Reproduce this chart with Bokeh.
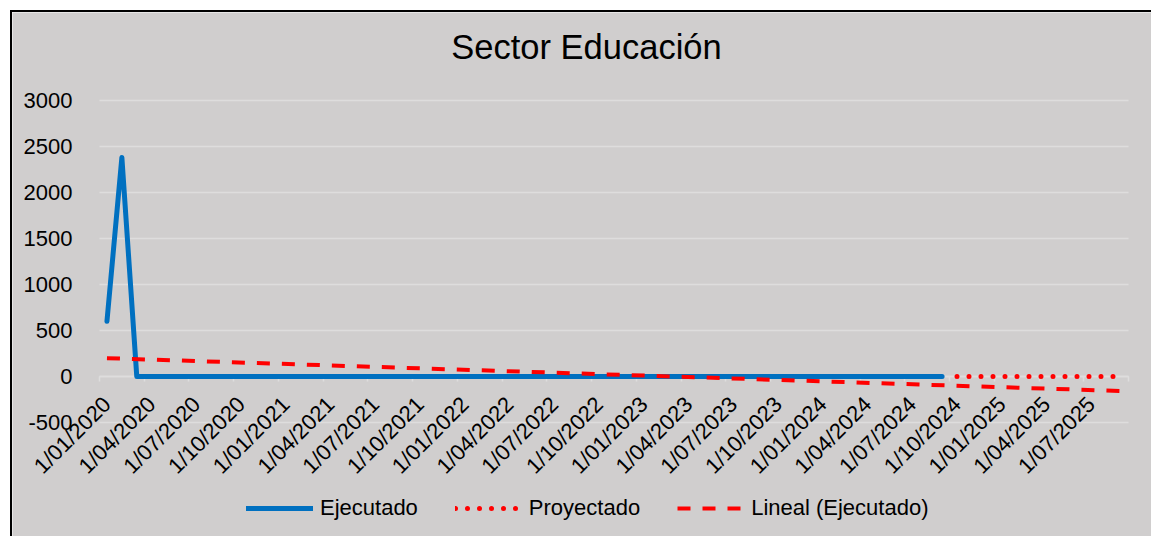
import math
import pandas as pd
from bokeh.plotting import figure
from bokeh.models import (FixedTicker, LinearAxis, Legend, LegendItem, Range1d, Label)
from bokeh.embed import file_html
from bokeh.resources import INLINE

# ---------------- data ----------------
ejecutado_months = pd.date_range("2020-01-01", "2024-09-01", freq="MS")
ejecutado = [
    600, 2380, 0, 0, 0, 0, 0, 0, 0, 0, 0, 0,      # 2020
    0, 0, 0, 0, 0, 0, 0, 0, 0, 0, 0, 0,           # 2021
    0, 0, 0, 0, 0, 0, 0, 0, 0, 0, 0, 0,           # 2022
    0, 0, 0, 0, 0, 0, 0, 0, 0, 0, 0, 0,           # 2023
    0, 0, 0, 0, 0, 0, 0, 0, 0,                    # 2024 (ene-sep)
]
proyectado_months = pd.date_range("2024-10-01", "2025-09-01", freq="MS")
proyectado = [0, 0, 0, 0, 0, 0, 0, 0, 0, 0, 0, 0]

tendencia_months = pd.to_datetime(["2020-01-01", "2025-09-01"])
tendencia = [199, -158]

tick_dates = pd.date_range("2020-01-01", "2025-07-01", freq="3MS")
tick_labels = [
    "1/01/2020", "1/04/2020", "1/07/2020", "1/10/2020",
    "1/01/2021", "1/04/2021", "1/07/2021", "1/10/2021",
    "1/01/2022", "1/04/2022", "1/07/2022", "1/10/2022",
    "1/01/2023", "1/04/2023", "1/07/2023", "1/10/2023",
    "1/01/2024", "1/04/2024", "1/07/2024", "1/10/2024",
    "1/01/2025", "1/04/2025", "1/07/2025",
]
y_ticks = [-500, 0, 500, 1000, 1500, 2000, 2500, 3000]
y_labels = ["-500", "0", "500", "1000", "1500", "2000", "2500", "3000"]
title_text = "Sector Educación"

# ---------------- helpers ----------------
def month_index(dates):
    return [(d.year - 2020) * 12 + d.month - 1 for d in dates]

BG = "#D0CECE"
GRID = "#DEDDDD"
FONT = "Liberation Sans"
FS = "22px"

x_ej = month_index(ejecutado_months)
x_pr = month_index(proyectado_months)
x_tr = month_index(tendencia_months)
x_ticks = month_index(tick_dates)
n_months = x_pr[-1] + 1
x_lo, x_hi = -0.5, n_months - 0.5

# ---------------- layout (page pixels) ----------------
W, H = 1141, 526
ORIG = 12                              # canvas origin on the page (margin + border)
PLOT_L, PLOT_R, PLOT_T, PLOT_B = 99, 1128, 100, 422
ppx = (PLOT_R - PLOT_L) / (x_hi - x_lo)
ppy = (PLOT_B - PLOT_T) / (y_ticks[-1] - y_ticks[0])
x_start = x_lo - (PLOT_L - ORIG) / ppx
x_end = x_hi + (ORIG + W - PLOT_R) / ppx
y_end = y_ticks[-1] + (PLOT_T - ORIG) / ppy
y_start = y_ticks[0] - (ORIG + H - PLOT_B) / ppy

p = figure(width=W, height=H, output_backend="svg", toolbar_location=None,
           x_range=Range1d(x_start, x_end), y_range=Range1d(y_start, y_end),
           x_axis_type=None, y_axis_type=None,
           min_border=0, min_border_left=0, min_border_right=0,
           min_border_top=0, min_border_bottom=0,
           background_fill_color=BG, border_fill_color=BG, outline_line_color=None)
p.styles = {"margin-left": "10px", "margin-top": "10px",
            "border-left": "2px solid black", "border-top": "2px solid black"}

# title
p.add_layout(Label(x=586 - ORIG, y=ORIG + H - 46, x_units="screen", y_units="screen",
                   text=title_text, text_font=FONT, text_font_size="34.5px",
                   text_color="black", text_align="center", text_baseline="alphabetic"))

# horizontal gridlines over the plot area only
p.segment(x0=x_lo, x1=x_hi, y0=y_ticks, y1=y_ticks, line_color=GRID,
          line_width=1.5, level="underlay")

# y axis (labels only)
yaxis = LinearAxis(ticker=FixedTicker(ticks=y_ticks), fixed_location=x_lo,
                   axis_line_color=None, major_tick_line_color=None,
                   minor_tick_line_color=None, major_label_standoff=21,
                   major_label_overrides={t: l for t, l in zip(y_ticks, y_labels)},
                   major_label_text_font=FONT, major_label_text_font_size=FS,
                   major_label_text_color="black")
p.add_layout(yaxis, "left")

# x axis: line + tick marks at period boundaries
bounds = [t - 0.5 for t in x_ticks] + [x_hi]
tick_axis = LinearAxis(ticker=FixedTicker(ticks=bounds), fixed_location=0,
                       bounds=(x_lo, x_hi),
                       axis_line_color=GRID, axis_line_width=1.5,
                       major_tick_line_color=GRID, major_tick_line_width=1.5,
                       major_tick_in=0, major_tick_out=5,
                       minor_tick_line_color=None,
                       major_label_overrides={b: "" for b in bounds},
                       level="underlay")
p.add_layout(tick_axis, "below")

# x axis: labels
label_axis = LinearAxis(ticker=FixedTicker(ticks=x_ticks), fixed_location=0,
                        axis_line_color=None, major_tick_line_color=None,
                        minor_tick_line_color=None,
                        major_label_overrides={t: l for t, l in zip(x_ticks, tick_labels)},
                        major_label_orientation=math.pi / 4,
                        major_label_standoff=18,
                        major_label_text_font=FONT, major_label_text_font_size=FS,
                        major_label_text_color="black")
p.add_layout(label_axis, "below")

r_ej = p.line(x_ej, ejecutado, line_color="#0070C0", line_width=5,
              line_join="round", line_cap="round")
r_pr = p.line(x_pr, proyectado, line_color="#FF0000", line_width=5,
              line_dash="0 12", line_cap="round")
r_tr = p.line(x_tr, tendencia, line_color="#FF0000", line_width=4,
              line_dash="13 12", line_cap="butt")

legend = Legend(items=[LegendItem(label="Ejecutado", renderers=[r_ej]),
                       LegendItem(label="Proyectado", renderers=[r_pr]),
                       LegendItem(label="Lineal (Ejecutado)", renderers=[r_tr])],
                orientation="horizontal", location=(246 - ORIG, 17),
                glyph_width=67, glyph_height=24, label_standoff=7, spacing=37,
                padding=0, margin=0, border_line_color=None, background_fill_alpha=0,
                label_text_font=FONT, label_text_font_size=FS, label_text_color="black",
                label_height=24)
p.add_layout(legend, "center")

open("out.html", "w").write(file_html(p, INLINE))
